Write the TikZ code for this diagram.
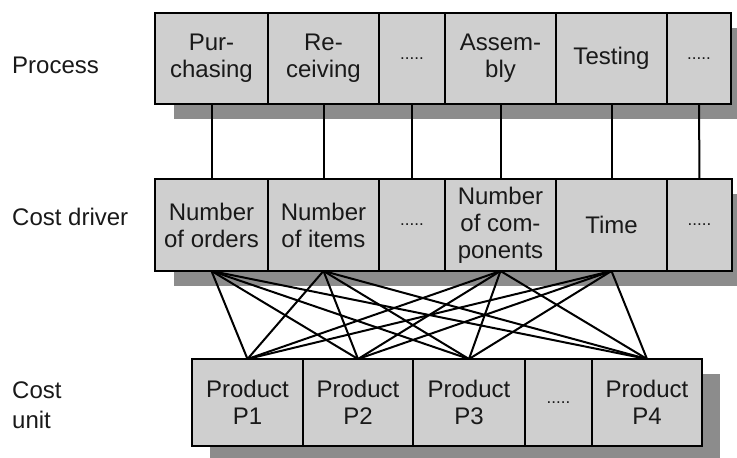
\documentclass[tikz,border=0pt]{standalone}
\usepackage{fontspec}
\setmainfont{Liberation Sans}
\usetikzlibrary{positioning}

\definecolor{boxgray}{gray}{0.81}
\definecolor{shadegray}{gray}{0.55}
\definecolor{inkgray}{gray}{0.1}

\tikzset{
  cell/.style={draw=black, fill=boxgray, line width=2.4pt, inner sep=0pt,
    outer sep=0pt, align=center, text=inkgray,
    font=\fontsize{24}{27}\selectfont},
  dots/.style={font=\fontsize{17}{20}\selectfont},
  rowshade/.style={fill=shadegray},
  link/.style={line width=2pt},
  rowlabel/.style={anchor=west, align=left, inner sep=0pt, text=inkgray,
    font=\fontsize{24}{30}\selectfont}
}

\begin{document}
\begin{tikzpicture}[x=1pt, y=-1pt, node distance=0pt]
\useasboundingbox (0,0) rectangle (737,458);

% shadows under the three rows
\fill[rowshade] (174,28) rectangle (750,119);
\fill[rowshade] (174,194) rectangle (750,286);
\fill[rowshade] (210,374) rectangle (720,461);

% row labels
\node[rowlabel] (lproc) at (12,65) {Process};
\node[rowlabel] (ldriver) at (12,217) {Cost driver};
\node[rowlabel] (lunit) at (12,405) {Cost\\unit};

% processes
\node[cell, minimum width=113pt, minimum height=91pt, anchor=north west] (pur) at (155,13) {Pur-\\chasing};
\node[cell, minimum width=111pt, minimum height=91pt, right=of pur] (rec) {Re-\\ceiving};
\node[cell, dots, minimum width=66pt, minimum height=91pt, right=of rec] (pdots) {.....};
\node[cell, minimum width=111pt, minimum height=91pt, right=of pdots] (asm) {Assem-\\bly};
\node[cell, minimum width=111pt, minimum height=91pt, right=of asm] (test) {Testing};
\node[cell, dots, minimum width=64pt, minimum height=91pt, right=of test] (pdotsb) {.....};

% cost drivers
\node[cell, minimum width=113pt, minimum height=92pt, anchor=north west] (orders) at (155,179) {Number\\of orders};
\node[cell, minimum width=111pt, minimum height=92pt, right=of orders] (items) {Number\\of items};
\node[cell, dots, minimum width=66pt, minimum height=92pt, right=of items] (ddots) {.....};
\node[cell, minimum width=111pt, minimum height=92pt, right=of ddots] (comps) {Number\\of com-\\ponents};
\node[cell, minimum width=111pt, minimum height=92pt, right=of comps] (time) {Time};
\node[cell, dots, minimum width=65pt, minimum height=92pt, right=of time] (ddotsb) {.....};

% cost units
\node[cell, minimum width=111pt, minimum height=87pt, anchor=north west] (p1) at (192,359) {Product\\P1};
\node[cell, minimum width=110pt, minimum height=87pt, right=of p1] (p2) {Product\\P2};
\node[cell, minimum width=112pt, minimum height=87pt, right=of p2] (p3) {Product\\P3};
\node[cell, dots, minimum width=67pt, minimum height=87pt, right=of p3] (udots) {.....};
\node[cell, minimum width=110pt, minimum height=87pt, right=of udots] (p4) {Product\\P4};

% process -> driver
\draw[link] (pur) -- (orders);
\draw[link] (rec) -- (items);
\draw[link] (pdots) -- (ddots);
\draw[link] (asm) -- (comps);
\draw[link] (test) -- (time);
\draw[link] (pdotsb) -- (ddotsb);

% driver -> unit
\foreach \d in {orders,items,comps,time}
  \foreach \u in {p1,p2,p3,p4}
    \draw[link] (\d.south) -- (\u.north);

\end{tikzpicture}
\end{document}
